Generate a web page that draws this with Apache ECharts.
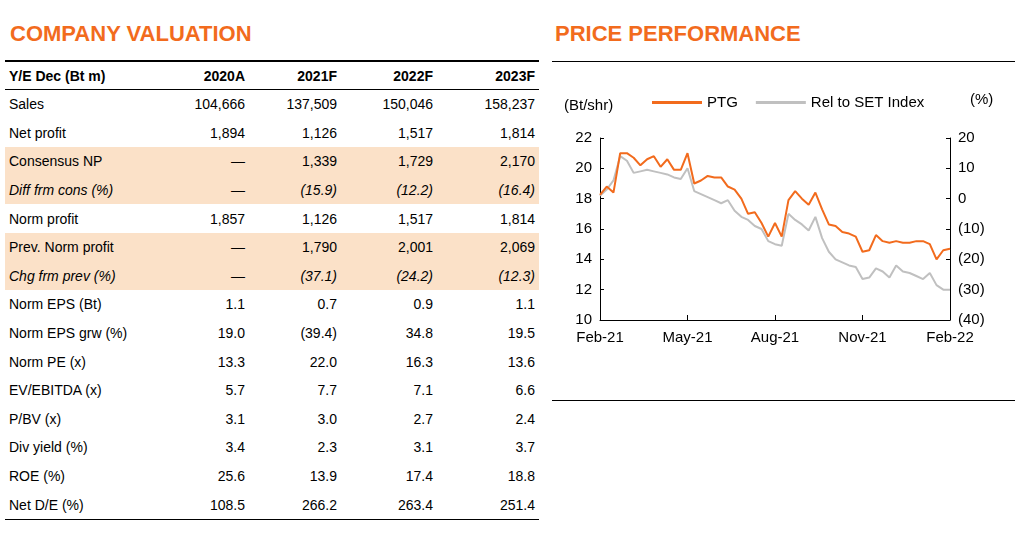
<!DOCTYPE html>
<html lang="en">
<head>
<meta charset="UTF-8">
<title>PTG</title>
<script src="https://cdn.jsdelivr.net/npm/echarts@6/dist/echarts.min.js"></script>
<style>
  body { margin: 0; width: 1024px; height: 539px; background: #fff; font-family: "Liberation Sans", Arial, sans-serif; position: relative; overflow: hidden; }
  .title { position: absolute; top: 21px; color: #f26b1d; font-weight: bold; font-size: 22px; }
  table { position: absolute; left: 5px; top: 60px; width: 534px; border-collapse: collapse; font-size: 14px; color: #000; table-layout: fixed; }
  td { height: 28.6px; padding: 0 4px; text-align: right; }
  td:first-child { text-align: left; }
  tr.head td { font-weight: bold; border-top: 2px solid #000; border-bottom: 1px solid #000; height: 27px; }
  tr.hl td { background: #fbe1c8; }
  tr.it td { font-style: italic; }
  tr.last td { border-bottom: 1px solid #000; }
  .rule { position: absolute; left: 552px; width: 463px; border-top: 1px solid #000; }
  #main { position: absolute; left: 552px; top: 80px; width: 470px; height: 290px; }
</style>
</head>
<body>
<div class="title" style="left:10px">COMPANY VALUATION</div>
<div class="title" style="left:555px">PRICE PERFORMANCE</div>
<table id="tbl"><colgroup><col style="width:150px"><col style="width:94px"><col style="width:92px"><col style="width:96px"><col style="width:102px"></colgroup><tbody id="tb"></tbody></table>
<div class="rule" style="top:61px"></div>
<div class="rule" style="top:400px"></div>
<div id="main"></div>
<script>
// table data
const years = ['2020A', '2021F', '2022F', '2023F'];
const rowLabels = ['Sales', 'Net profit', 'Consensus NP', 'Diff frm cons (%)', 'Norm profit', 'Prev. Norm profit',
  'Chg frm prev (%)', 'Norm EPS (Bt)', 'Norm EPS grw (%)', 'Norm PE (x)', 'EV/EBITDA (x)', 'P/BV (x)',
  'Div yield (%)', 'ROE (%)', 'Net D/E (%)'];
const rowValues = [
  ['104,666', '137,509', '150,046', '158,237'],
  ['1,894', '1,126', '1,517', '1,814'],
  ['\u2014', '1,339', '1,729', '2,170'],
  ['\u2014', '(15.9)', '(12.2)', '(16.4)'],
  ['1,857', '1,126', '1,517', '1,814'],
  ['\u2014', '1,790', '2,001', '2,069'],
  ['\u2014', '(37.1)', '(24.2)', '(12.3)'],
  ['1.1', '0.7', '0.9', '1.1'],
  ['19.0', '(39.4)', '34.8', '19.5'],
  ['13.3', '22.0', '16.3', '13.6'],
  ['5.7', '7.7', '7.1', '6.6'],
  ['3.1', '3.0', '2.7', '2.4'],
  ['3.4', '2.3', '3.1', '3.7'],
  ['25.6', '13.9', '17.4', '18.8'],
  ['108.5', '266.2', '263.4', '251.4']
];
const highlightRows = [2, 3, 5, 6];
const italicRows = [3, 6];

// chart data (weekly, Feb-21 to Feb-22)
const ptg = [18.25, 18.8, 18.4, 21.0, 21.0, 20.7, 20.2, 20.6, 20.8, 20.1, 20.6, 19.9, 19.9, 21.0,
  19.0, 19.2, 19.5, 19.4, 19.4, 18.8, 18.6, 18.0, 17.0, 17.1, 16.4, 15.5, 16.4, 15.5, 17.9, 18.5,
  18.0, 17.6, 18.4, 17.3, 16.3, 16.2, 15.8, 15.7, 15.5, 14.5, 14.6, 15.6, 15.2, 15.1, 15.2, 15.1,
  15.1, 15.2, 15.2, 15.0, 14.0, 14.6, 14.7];
const relSet = [18.2, 18.6, 19.2, 20.8, 20.5, 19.7, 19.8, 19.9, 19.8, 19.7, 19.6, 19.4, 19.3, 20.0,
  18.5, 18.3, 18.1, 17.9, 17.7, 17.9, 17.2, 16.8, 16.6, 16.2, 16.0, 15.2, 15.0, 14.9, 17.0, 16.6,
  16.3, 15.9, 16.8, 15.4, 14.5, 14.0, 13.8, 13.6, 13.5, 12.7, 12.8, 13.4, 13.2, 12.8, 13.6, 13.2,
  13.1, 12.9, 12.7, 13.1, 12.3, 12.0, 12.0];
const tickLabels = ['Feb-21', 'May-21', 'Aug-21', 'Nov-21', 'Feb-22'];

let html = '<tr class="head"><td>Y/E Dec (Bt m)</td>' + years.map(y => '<td>' + y + '</td>').join('') + '</tr>';
rowLabels.forEach((lab, i) => {
  let cls = [];
  if (highlightRows.includes(i)) cls.push('hl');
  if (italicRows.includes(i)) cls.push('it');
  if (i === rowLabels.length - 1) cls.push('last');
  html += '<tr class="' + cls.join(' ') + '"><td>' + lab + '</td>' + rowValues[i].map(v => '<td>' + v + '</td>').join('') + '</tr>';
});
document.getElementById('tb').innerHTML = html;

const weeks = ptg.map((_, i) => i);
let myChart = echarts.init(document.getElementById('main'));
const fnt = { fontFamily: 'Liberation Sans', fontSize: 15, color: '#000' };
myChart.setOption({
  animation: false,
  legend: {
    top: 10, left: 95, itemGap: 18, itemWidth: 50, itemHeight: 3, icon: 'rect',
    textStyle: fnt, data: ['PTG', 'Rel to SET Index']
  },
  graphic: [
    { type: 'text', left: 12, top: 18, style: { text: '(Bt/shr)', font: '15px Liberation Sans', fill: '#000' } },
    { type: 'text', left: 418, top: 12, style: { text: '(%)', font: '15px Liberation Sans', fill: '#000' } }
  ],
  grid: { left: 48, right: 72, top: 58, bottom: 50 },
  xAxis: {
    type: 'category', data: weeks, boundaryGap: false,
    axisLine: { onZero: false, lineStyle: { color: '#000' } },
    axisTick: { interval: i => i % 13 === 0, length: 5, inside: true, lineStyle: { color: '#000' } },
    axisLabel: { ...fnt, margin: 10, interval: i => i % 13 === 0, formatter: (v, i) => tickLabels[i / 13] }
  },
  yAxis: [
    { type: 'value', min: 10, max: 22, interval: 2, splitLine: { show: false },
      axisLine: { show: true, lineStyle: { color: '#000' } },
      axisTick: { show: true, inside: true, length: 4, lineStyle: { color: '#000' } },
      axisLabel: fnt },
    { type: 'value', min: -40, max: 20, interval: 10, splitLine: { show: false },
      axisLine: { show: true, lineStyle: { color: '#000' } },
      axisTick: { show: true, inside: true, length: 4, lineStyle: { color: '#000' } },
      axisLabel: { ...fnt, formatter: v => v < 0 ? '(' + (-v) + ')' : String(v) } }
  ],
  series: [
    { name: 'PTG', type: 'line', data: ptg, showSymbol: false, lineStyle: { color: '#f26b1d', width: 2 }, itemStyle: { color: '#f26b1d' }, z: 3 },
    { name: 'Rel to SET Index', type: 'line', data: relSet, showSymbol: false, lineStyle: { color: '#c0c0c0', width: 2 }, itemStyle: { color: '#c0c0c0' }, z: 2 }
  ]
});
</script>
</body>
</html>
